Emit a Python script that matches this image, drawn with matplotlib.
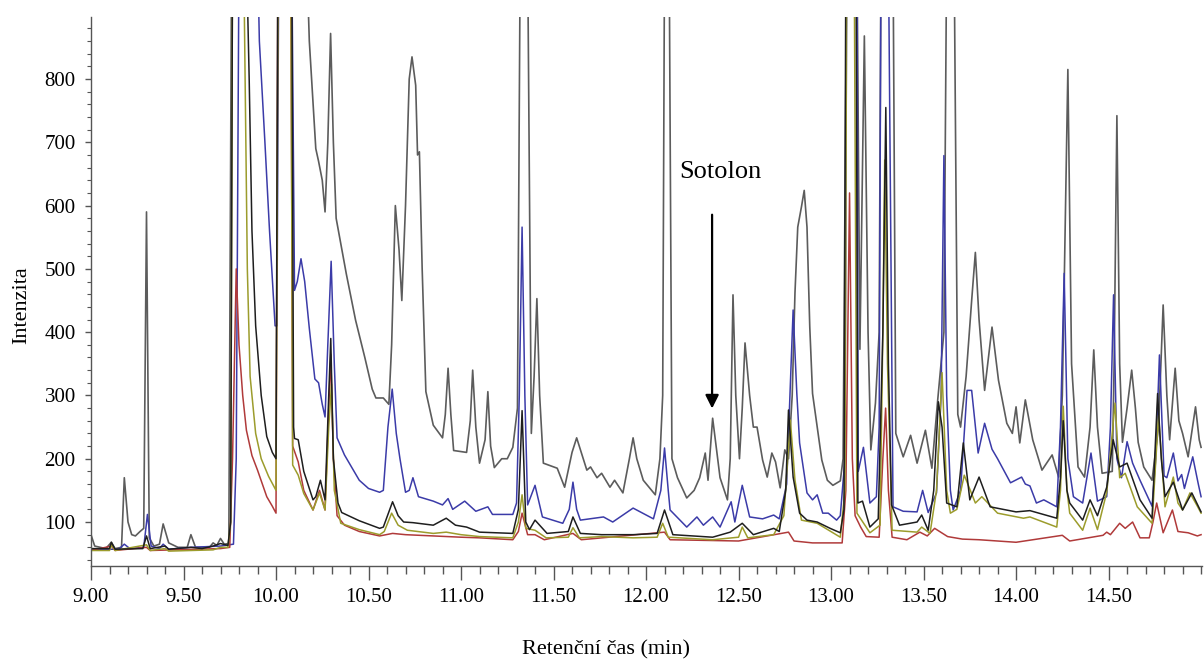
import matplotlib
matplotlib.use("Agg")
import matplotlib.pyplot as plt
from matplotlib.ticker import MultipleLocator, FixedLocator

# retention time (min) / intensity vertices
# values of 1000 mean the peak runs off the top of the plot
gray_t = [9.0, 9.02, 9.08, 9.11, 9.13, 9.165, 9.18, 9.20, 9.22, 9.24, 9.265, 9.285, 9.30, 9.315, 9.34, 9.37,
          9.39, 9.42, 9.47, 9.52, 9.54, 9.565, 9.64, 9.66, 9.68, 9.70, 9.72, 9.745, 9.76, 10.165, 10.18, 10.215,
          10.23, 10.25, 10.265, 10.28, 10.295, 10.31, 10.325, 10.35, 10.38, 10.43, 10.48, 10.52, 10.54, 10.58,
          10.61, 10.625, 10.645, 10.665, 10.68, 10.70, 10.72, 10.735, 10.755, 10.765, 10.775, 10.79, 10.81, 10.85,
          10.90, 10.915, 10.93, 10.945, 10.96, 11.03, 11.05, 11.063, 11.08, 11.10, 11.13, 11.145, 11.16, 11.18,
          11.22, 11.25, 11.28, 11.305, 11.32, 11.36, 11.38, 11.395, 11.41, 11.425, 11.445, 11.52, 11.56, 11.60,
          11.625, 11.68, 11.70, 11.735, 11.76, 11.805, 11.83, 11.875, 11.91, 11.93, 11.95, 11.985, 12.05, 12.075,
          12.09, 12.10, 12.125, 12.14, 12.17, 12.22, 12.26, 12.29, 12.32, 12.335, 12.36, 12.40, 12.44, 12.455,
          12.47, 12.485, 12.505, 12.52, 12.535, 12.56, 12.58, 12.60, 12.63, 12.655, 12.68, 12.70, 12.725, 12.75,
          12.77, 12.79, 12.805, 12.82, 12.84, 12.855, 12.87, 12.885, 12.90, 12.925, 12.95, 12.98, 13.01, 13.05,
          13.065, 13.085, 13.14, 13.156, 13.18, 13.20,
          13.215, 13.24, 13.26, 13.27, 13.335, 13.35, 13.39, 13.43, 13.465, 13.51, 13.545, 13.575, 13.61, 13.625,
          13.665, 13.685, 13.70, 13.73, 13.76, 13.78, 13.80, 13.83, 13.87, 13.905, 13.95, 13.98, 14.0, 14.02,
          14.05, 14.09, 14.14, 14.195, 14.23, 14.25, 14.28, 14.30, 14.335, 14.37, 14.40, 14.42, 14.44, 14.465,
          14.52, 14.53, 14.545, 14.56, 14.575, 14.60, 14.625, 14.645, 14.66, 14.69, 14.735, 14.77, 14.795, 14.815,
          14.83, 14.86, 14.88, 14.90, 14.93, 14.97, 14.99, 15.0]
gray_v = [80, 62, 58, 68, 58, 60, 170, 100, 80, 78, 85, 90, 590, 75, 62, 65,
          97, 67, 60, 60, 80, 60, 60, 67, 63, 74, 65, 66, 1000, 1000, 860, 690,
          670, 640, 590, 700, 872, 700, 580, 540, 492, 419, 360, 310, 296, 296,
          286, 380, 600, 530, 450, 600, 800, 835, 790, 680, 685, 500, 306, 253,
          233, 270, 343, 270, 213, 210, 260, 340, 250, 193, 230, 306, 220, 186,
          200, 200, 218, 280, 1000, 1000, 240, 330, 453, 300, 193, 185, 155, 210,
          233, 182, 187, 170, 177, 155, 166, 146, 200, 233, 200, 166, 143, 200,
          300, 1000, 1000, 200, 170, 138, 150, 170, 209, 166, 264, 170, 135, 200,
          459, 300, 200, 280, 383, 300, 250, 250, 198, 171, 209, 195, 154, 214,
          200, 300, 462, 566, 598, 624, 566, 408, 303, 250, 198, 166, 158, 165,
          200, 1000, 1000, 373, 868, 400,
          214, 288, 400, 1000, 1000, 240, 203, 237, 193, 245, 185, 288, 400, 1000,
          1000, 270, 250, 330, 450, 526, 420, 308, 408, 324, 256, 240, 282, 225,
          293, 230, 182, 206, 171, 300, 815, 350, 187, 171, 250, 372, 250, 177,
          180, 350, 742, 350, 226, 280, 340, 280, 226, 187, 166, 250, 443, 300,
          230, 343, 260, 240, 203, 282, 230, 218]

blue_t = [9.0, 9.15, 9.18, 9.21, 9.285, 9.305, 9.325, 9.37, 9.39, 9.42, 9.54, 9.70, 9.77, 9.785, 9.80, 9.90,
          9.91, 9.94, 9.965, 9.995, 10.005, 10.015, 10.085, 10.10, 10.115, 10.135, 10.155, 10.18, 10.21, 10.23,
          10.25, 10.265, 10.28, 10.298, 10.315, 10.33, 10.37, 10.45, 10.50, 10.56, 10.58, 10.605, 10.628, 10.65,
          10.67, 10.70, 10.72, 10.74, 10.77, 10.85, 10.90, 10.93, 10.955, 11.02, 11.08, 11.145, 11.17, 11.28,
          11.30, 11.315, 11.33, 11.345, 11.36, 11.40, 11.44, 11.55, 11.585, 11.605, 11.625, 11.645, 11.77, 11.82,
          11.93, 12.04, 12.08, 12.10, 12.12, 12.13, 12.22, 12.275, 12.31, 12.36, 12.40, 12.46, 12.48, 12.52,
          12.56, 12.63, 12.69, 12.72, 12.76, 12.795, 12.815, 12.83, 12.87, 12.90, 12.925, 12.955, 12.985, 13.03,
          13.05, 13.075,
          13.085, 13.14, 13.147, 13.175, 13.21, 13.245, 13.26, 13.27, 13.31, 13.335, 13.39, 13.465, 13.495,
          13.525, 13.57, 13.595, 13.61, 13.625, 13.645, 13.66, 13.70, 13.735, 13.76, 13.795, 13.83, 13.87, 13.90,
          13.97, 14.03, 14.05, 14.075, 14.11, 14.15, 14.22, 14.24, 14.26, 14.28, 14.31, 14.36, 14.405, 14.44,
          14.49, 14.51, 14.527, 14.545, 14.57, 14.60, 14.63, 14.67, 14.735, 14.755, 14.775, 14.80, 14.815, 14.85,
          14.875, 14.895, 14.91, 14.955, 14.985, 15.0]
blue_v = [57, 57, 65, 58, 60, 112, 62, 58, 65, 57, 60, 62, 65, 200, 1000, 1000,
          860, 700, 560, 410, 410, 1000, 1000, 466, 480, 516, 480, 406, 326, 320,
          286, 266, 380, 512, 350, 233, 206, 166, 153, 147, 150, 250, 310, 240,
          200, 147, 150, 170, 140, 133, 127, 137, 120, 133, 117, 124, 112, 112,
          130, 300, 566, 300, 127, 158, 108, 98, 120, 163, 120, 103, 108, 100,
          122, 105, 150, 217, 150, 119, 92, 108, 95, 108, 92, 132, 100, 158,
          108, 105, 111, 105, 160, 435, 303, 225, 146, 135, 143, 114, 114, 103,
          110, 200,
          1000, 1000, 180, 218, 130, 140, 250, 1000, 1000, 124, 117, 116, 150,
          115, 146, 300, 679, 300, 150, 119, 150, 308, 308, 209, 256, 215, 200,
          162, 171, 160, 157, 130, 135, 124, 250, 493, 200, 140, 130, 209, 133,
          140, 250, 459, 200, 170, 227, 193, 166, 125, 200, 364, 173, 170, 209,
          165, 175, 153, 203, 160, 140]

black_t = [9.0, 9.10, 9.11, 9.13, 9.28, 9.30, 9.32, 9.40, 9.42, 9.54, 9.60, 9.66, 9.70, 9.74, 9.755, 9.765,
           9.84, 9.855, 9.87, 9.89, 9.92, 9.95, 9.98, 10.0, 10.01, 10.085, 10.095, 10.10, 10.12, 10.15, 10.20,
           10.215, 10.24, 10.265, 10.285, 10.296, 10.31, 10.335, 10.355, 10.45, 10.56, 10.58, 10.63, 10.66, 10.69,
           10.74, 10.85, 10.92, 10.97, 11.03, 11.10, 11.28, 11.31, 11.33, 11.35, 11.37, 11.40, 11.465, 11.58,
           11.605, 11.645, 11.76, 11.93, 12.06, 12.10, 12.145, 12.36, 12.455, 12.52, 12.58, 12.69, 12.72, 12.755,
           12.77, 12.795, 12.83, 12.87, 12.925, 12.995, 13.05, 13.07, 13.08, 13.135, 13.145, 13.17, 13.21, 13.255,
           13.28, 13.296, 13.31, 13.327, 13.37, 13.465, 13.49, 13.525, 13.555, 13.58, 13.60, 13.625, 13.68,
           13.715, 13.75, 13.80, 13.86, 14.0, 14.075, 14.22, 14.24, 14.255, 14.275, 14.29, 14.36, 14.40, 14.44,
           14.49, 14.525, 14.56, 14.60, 14.67, 14.735, 14.765, 14.785, 14.805, 14.85, 14.90, 14.95, 15.0]
black_v = [58, 58, 68, 57, 58, 78, 58, 62, 57, 60, 58, 62, 66, 63, 100, 1000,
           1000, 800, 560, 410, 300, 235, 210, 200, 1000, 1000, 250, 232, 230, 180, 135,
           140, 166, 135, 300, 390, 200, 130, 115, 102, 90, 92, 132, 110, 100,
           99, 95, 106, 95, 92, 84, 82, 120, 276, 100, 88, 103, 82, 85,
           108, 82, 80, 80, 82, 119, 80, 76, 84, 98, 80, 90, 85, 150,
           277, 171, 114, 103, 100, 90, 83, 120, 1000, 1000, 130, 133, 92, 105,
           400, 755, 350, 127, 95, 100, 111, 87, 150, 290, 250, 130, 124,
           225, 135, 171, 124, 116, 118, 106, 170, 260, 150, 130, 103, 135, 110,
           155, 230, 187, 193, 135, 106, 303, 200, 140, 163, 119, 146, 116]

olive_t = [9.0, 9.10, 9.11, 9.13, 9.30, 9.32, 9.40, 9.42, 9.66, 9.70, 9.74, 9.755, 9.765, 9.825, 9.845, 9.86,
           9.89, 9.92, 9.96, 10.0, 10.012, 10.08, 10.09, 10.12, 10.15, 10.20, 10.235, 10.265, 10.285, 10.30,
           10.315, 10.35, 10.45, 10.56, 10.585, 10.625, 10.66, 10.71, 10.85, 10.92, 11.0, 11.1, 11.28, 11.31,
           11.33, 11.35, 11.40, 11.46, 11.58, 11.605, 11.64, 11.76, 11.93, 12.06, 12.09, 12.12, 12.36, 12.50,
           12.52, 12.55, 12.69, 12.745, 12.78, 12.805, 12.84, 12.925, 13.05, 13.075, 13.085, 13.125,
           13.14, 13.21, 13.265, 13.28, 13.29, 13.305, 13.33, 13.465, 13.49, 13.535, 13.57, 13.60, 13.625, 13.645,
           13.68, 13.72, 13.78, 13.815, 13.90, 14.04, 14.075, 14.22, 14.24, 14.255, 14.275, 14.29, 14.36, 14.40,
           14.44, 14.49, 14.535, 14.56, 14.59, 14.655, 14.735, 14.77, 14.805, 14.85, 14.875, 14.90, 14.94, 14.98,
           15.0]
olive_v = [55, 55, 64, 55, 64, 55, 58, 54, 56, 60, 60, 100, 1000, 1000, 500, 330,
           240, 200, 172, 150, 1000, 1000, 190, 174, 145, 119, 146, 119, 250, 318,
           150, 98, 88, 80, 85, 114, 95, 87, 82, 84, 80, 77, 75, 100,
           143, 90, 87, 75, 76, 91, 75, 77, 75, 76, 98, 76, 72, 76,
           92, 75, 80, 110, 261, 166, 103, 98, 76, 150, 1000, 1000,
           114, 83, 95, 400, 672, 350, 87, 84, 92, 82, 150, 336, 150, 114,
           120, 174, 130, 140, 114, 106, 108, 92, 150, 283, 150, 114, 87, 122,
           88, 147, 288, 170, 177, 124, 98, 269, 124, 171, 130, 119, 146, 125,
           114]

red_t = [9.0, 9.11, 9.13, 9.30, 9.32, 9.70, 9.75, 9.765, 9.785, 9.80, 9.82, 9.84, 9.87, 9.90, 9.95, 9.98,
         10.0, 10.01, 10.08, 10.09, 10.12, 10.15, 10.20, 10.235, 10.265, 10.285, 10.296, 10.31, 10.33, 10.37,
         10.45, 10.56, 10.63, 10.70, 10.85, 11.0, 11.1, 11.28, 11.31, 11.33, 11.36, 11.40, 11.45, 11.605, 11.65,
         12.10, 12.13, 12.5, 12.77, 12.80, 12.9, 13.06, 13.08, 13.10, 13.115, 13.13, 13.16, 13.19, 13.26, 13.28,
         13.295, 13.31, 13.33, 13.41, 13.48, 13.52, 13.56, 13.63, 13.71, 13.80, 14.0, 14.25, 14.29, 14.47, 14.49,
         14.51, 14.56, 14.59, 14.63, 14.67, 14.72, 14.74, 14.76, 14.795, 14.845, 14.875, 14.93, 14.98, 15.0]
red_v = [55, 62, 55, 60, 55, 58, 60, 200, 500, 380, 300, 245, 205, 182, 140, 125,
         114, 1000, 1000, 220, 195, 150, 119, 150, 119, 280, 365, 200, 110, 95,
         85, 78, 82, 80, 78, 76, 75, 72, 85, 114, 80, 80, 72, 82, 72,
         84, 72, 70, 84, 70, 67, 67, 150, 620, 200, 110, 92, 77, 76, 200,
         280, 150, 76, 72, 84, 78, 90, 77, 73, 72, 68, 79, 70, 79, 84,
         80, 98, 90, 100, 75, 75, 100, 130, 83, 119, 85, 83, 78, 80]

x_ticks = [9.0, 9.5, 10.0, 10.5, 11.0, 11.5, 12.0, 12.5, 13.0, 13.5, 14.0, 14.5]
y_ticks = [100, 200, 300, 400, 500, 600, 700, 800]

plt.rcParams['font.family'] = ['Liberation Serif', 'DejaVu Serif']

fig = plt.figure(figsize=(12.04, 6.62), dpi=100)
ax = fig.add_axes([91 / 1204, 96 / 662, 1111 / 1204, 549 / 662])

ax.plot(gray_t, gray_v, color='#5c5c5c', lw=1.2)
ax.plot(blue_t, blue_v, color='#3b3ba8', lw=1.1)
ax.plot(red_t, red_v, color='#b03a3a', lw=1.1)
ax.plot(olive_t, olive_v, color='#9c9c2c', lw=1.1)
ax.plot(black_t, black_v, color='#1e1e1e', lw=1.1)

ax.set_xlim(9.0, 15.005)
ax.set_ylim(30.5, 898)

for s in ['top', 'right']:
    ax.spines[s].set_visible(False)
for s in ['left', 'bottom']:
    ax.spines[s].set_color('#555555')
    ax.spines[s].set_linewidth(1.0)

ax.xaxis.set_major_locator(FixedLocator(x_ticks))
ax.set_xticklabels(['%.2f' % t for t in x_ticks])
ax.xaxis.set_minor_locator(MultipleLocator(0.1))
ax.yaxis.set_major_locator(FixedLocator(y_ticks))
ax.yaxis.set_minor_locator(MultipleLocator(20))
ax.tick_params(axis='x', which='major', length=10, width=1, color='#555555', labelsize=15, pad=6)
ax.tick_params(axis='x', which='minor', length=6, width=1, color='#555555')
ax.tick_params(axis='y', which='major', length=4, width=1, color='#555555', labelsize=15, pad=7)
ax.tick_params(axis='y', which='minor', length=3, width=0.8, color='#555555')

ax.annotate('', xy=(12.357, 275), xytext=(12.357, 590),
            arrowprops=dict(arrowstyle='-|>', lw=1.6, color='black', mutation_scale=20))
ax.text(12.40, 653, 'Sotolon', fontsize=19, ha='center', va='center')

fig.text(606 / 1204, 1 - 650 / 662, 'Retenční čas (min)', fontsize=16, ha='center', va='center')
fig.text(22 / 1204, 1 - 305 / 662, 'Intenzita', fontsize=16, ha='center', va='center', rotation=90)

fig.savefig('out.png', dpi=100)
